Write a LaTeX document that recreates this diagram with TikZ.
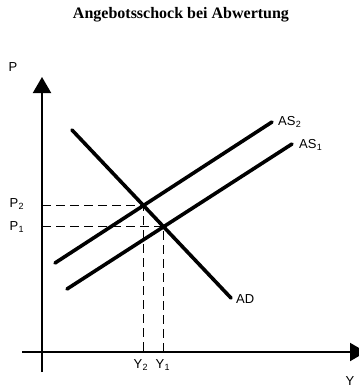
\documentclass[tikz,border=0pt]{standalone}
\usepackage{fontspec}
\setmainfont{Liberation Serif}
\setsansfont{Liberation Sans}
\usetikzlibrary{arrows.meta}

\begin{document}
\begin{tikzpicture}[
  x=1pt,y=-1pt,
  axis/.style={line width=2pt, -{Triangle[length=16pt,width=18pt]}},
  curve/.style={line width=3.6pt, line cap=round},
  guide/.style={line width=1.4pt, dash pattern=on 9pt off 5pt},
  lab/.style={font=\sffamily\fontsize{13}{14}\selectfont, inner sep=0pt},
  sub/.style={font=\sffamily\fontsize{9}{10}\selectfont, inner sep=0pt}
]
\useasboundingbox (0,0) rectangle (359,389);

% title
\node[font=\bfseries\fontsize{16}{18}\selectfont] (title) at (181,15) {Angebotsschock bei Abwertung};

% axes
\coordinate (ybot) at (42,372);
\coordinate (ytop) at (42,77);
\coordinate (xlft) at (22,352);
\coordinate (xrgt) at (366,352);
\draw[axis] (ybot) -- (ytop);
\draw[axis] (xlft) -- (xrgt);
\node[lab] (plab) at (13,67) {P};
\node[lab] (ylab) at (350,381) {Y};

% curves
\coordinate (as2a) at (55,263);
\coordinate (as2b) at (272,122);
\coordinate (as1a) at (67,289);
\coordinate (as1b) at (292,144);
\coordinate (ada) at (72,130);
\coordinate (adb) at (231,298);
\draw[curve] (as2a) -- (as2b);
\draw[curve] (as1a) -- (as1b);
\draw[curve] (ada) -- (adb);
\node[lab, anchor=west] (as2lab) at (278,121) {AS};
\node[sub, anchor=west] at (as2lab.south east) [yshift=1pt] {2};
\node[lab, anchor=west] (as1lab) at (299,144) {AS};
\node[sub, anchor=west] at (as1lab.south east) [yshift=1pt] {1};
\node[lab, anchor=west] (adlab) at (236,299) {AD};

% equilibria
\coordinate (e2) at (intersection of as2a--as2b and ada--adb);
\coordinate (e1) at (intersection of as1a--as1b and ada--adb);
\coordinate (p2) at (42,0 |- e2);
\coordinate (p1) at (42,0 |- e1);
\coordinate (y2) at (e2 |- xlft);
\coordinate (y1) at (e1 |- xlft);
\draw[guide] (p2) -- (e2) -- (y2);
\draw[guide] (p1) -- (e1) -- (y1);
\node[lab] (p2lab) at (14,203) {P};
\node[sub, anchor=west] at (p2lab.south east) [yshift=1pt] {2};
\node[lab] (p1lab) at (14,226) {P};
\node[sub, anchor=west] at (p1lab.south east) [yshift=1pt] {1};
\node[lab] (y2lab) at (138,364) {Y};
\node[sub, anchor=west] at (y2lab.south east) [yshift=1pt] {2};
\node[lab] (y1lab) at (160,364) {Y};
\node[sub, anchor=west] at (y1lab.south east) [yshift=1pt] {1};

\end{tikzpicture}
\end{document}
